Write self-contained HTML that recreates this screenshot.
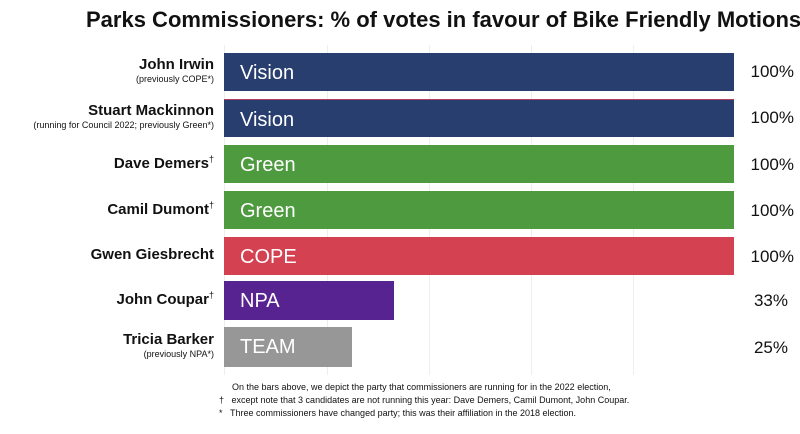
<!DOCTYPE html><html><head><style>
body{margin:0;width:800px;height:434px;background:#fff;font-family:"Liberation Sans",sans-serif;position:relative;overflow:hidden}
.t{position:absolute;left:0;width:800px;top:7px;text-align:center;font-weight:bold;font-size:22px;color:#111;padding-left:86px;box-sizing:border-box;white-space:nowrap}
.g{position:absolute;top:45px;height:330px;width:1px;background:#eee}
.bar{position:absolute;left:224px;color:#fff;font-size:20px;line-height:40px;padding-left:16px;box-sizing:border-box;height:38px}
.n{position:absolute;right:586px;text-align:right;font-weight:bold;font-size:15px;color:#111;white-space:nowrap}
.n small{display:block;font-weight:normal;font-size:9px;margin-top:1px}
.n sup{font-weight:normal;font-size:9px}
.p{position:absolute;right:6px;font-size:17px;color:#111}
.f{position:absolute;left:224px;font-size:9px;color:#111;white-space:nowrap}
</style></head><body>
<div class="t">Parks Commissioners: % of votes in favour of Bike Friendly Motions</div>
<div class="g" style="left:224px"></div><div class="g" style="left:327px"></div><div class="g" style="left:429px"></div><div class="g" style="left:531px"></div><div class="g" style="left:633px"></div>
<div class="bar" style="top:53px;width:510px;background:#273e6f">Vision</div>
<div class="bar" style="top:99px;width:510px;background:#273e6f;border-top:1px solid #b04060">Vision</div>
<div class="bar" style="top:145px;width:510px;background:#4e9a3e">Green</div>
<div class="bar" style="top:191px;width:510px;background:#4e9a3e">Green</div>
<div class="bar" style="top:237px;width:510px;background:#d44251">COPE</div>
<div class="bar" style="top:281px;width:170px;background:#572390;height:39px">NPA</div>
<div class="bar" style="top:327px;width:128px;background:#979797;height:40px">TEAM</div>
<div class="n" style="top:56px">John Irwin<small>(previously COPE*)</small></div>
<div class="n" style="top:102px">Stuart Mackinnon<small>(running for Council 2022; previously Green*)</small></div>
<div class="n" style="top:154px">Dave Demers<sup>†</sup></div>
<div class="n" style="top:200px">Camil Dumont<sup>†</sup></div>
<div class="n" style="top:246px">Gwen Giesbrecht</div>
<div class="n" style="top:290px">John Coupar<sup>†</sup></div>
<div class="n" style="top:331px">Tricia Barker<small>(previously NPA*)</small></div>
<div class="p" style="top:62px">100%</div>
<div class="p" style="top:108px">100%</div>
<div class="p" style="top:155px">100%</div>
<div class="p" style="top:201px">100%</div>
<div class="p" style="top:247px">100%</div>
<div class="p" style="top:291px;right:12px">33%</div>
<div class="p" style="top:338px;right:12px">25%</div>
<div class="f" style="top:382px;left:232px">On the bars above, we depict the party that commissioners are running for in the 2022 election,</div>
<div class="f" style="top:395px;left:219px">†&nbsp;&nbsp;&nbsp;except note that 3 candidates are not running this year: Dave Demers, Camil Dumont, John Coupar.</div>
<div class="f" style="top:408px;left:219px">*&nbsp;&nbsp;&nbsp;Three commissioners have changed party; this was their affiliation in the 2018 election.</div>
</body></html>
